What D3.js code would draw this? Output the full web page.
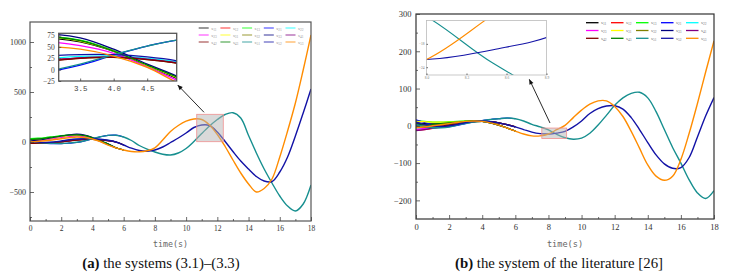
<!DOCTYPE html>
<html><head><meta charset="utf-8">
<script src="https://cdn.jsdelivr.net/npm/d3@7"></script>
<style>body{margin:0;background:#fff}</style>
</head><body>
<svg id="c" width="734" height="274" xmlns="http://www.w3.org/2000/svg"></svg>
<script>
// ---------- DATA ----------
const tA = [0,0.5,1,1.5,2,2.5,3,3.5,4,4.5,5,5.5,6,6.5,7,7.5,8,8.5,9,9.5,10,10.5,11,11.5,12,12.5,13,13.5,14,14.5,15,15.5,16,16.5,17,17.5,18];
const names = ["s11","s12","s13","s21","s22","s23","s31","s32","s33","s41","s42","s43","s51","s52","s53"];
const subs  = ["11","12","13","21","22","23","31","32","33","41","42","43","51","52","53"];
const colors = ["#000000","#ff0000","#00ff00","#0000ff","#00ffff","#ff00ff","#ffff00","#808000","#000080","#800080","#800000","#008000","#168f8f","#1212a6","#ff8c00"];
const groupOf = ["O","B","O","T","B","O","O","B","O","B","B","O","T","B","O"];

// left panel (a): group lead curves (s53 orange, s52 blue, s51 teal)
const leftLeadO = [0,5,12,22,33,43,50,45,30,5,-32,-58,-80,-95,-98,-88,-58,20,105,165,208,230,225,170,75,-45,-180,-310,-420,-500,-465,-370,-150,110,390,720,1070];
const leftLeadB = [0,-3,-5,0,10,22,30,33,33,28,18,0,-30,-62,-85,-92,-80,-50,-5,40,90,145,170,165,100,5,-95,-190,-270,-345,-390,-395,-300,-150,60,290,530];
const leftLeadT = [0,-5,-10,-14,-15,-10,-3,12,33,52,66,68,50,15,-35,-72,-100,-122,-130,-110,-65,5,85,160,225,275,293,240,65,-110,-270,-410,-540,-640,-690,-620,-430];
// left panel early values (t = 0 .. 5) of the other states, null = lead curve
const leftEarly = [
  [20,26,34,45,56,65,69,61,40,8,-23],
  [-10,-12,-12,-7,2,12,20,26,28,23,14],
  [33,38,45,54,63,70,73,65,42,10,-20],
  [-5,-10,-14,-17,-17,-12,-5,10,32,52,66],
  [-5,-8,-8,-3,6,16,24,29,30,25,16],
  [5,12,22,33,45,55,61,53,36,6,-27],
  [15,22,31,43,55,65,71,63,41,9,-21],
  [-12,-14,-13,-8,1,11,19,25,27,22,13],
  [10,18,30,45,60,72,78,70,45,12,-18],
  [-8,-11,-11,-6,3,12,20,26,28,23,14],
  [-15,-15,-14,-9,0,10,18,25,27,22,13],
  [25,31,39,50,60,68,72,64,41,10,-20],
  null, null, null
];

// right panel (b)
const rightLeadO = [-5,-3,0,3,6,9,12,13,12,8,2,-6,-14,-22,-27,-27,-22,-10.5,1,22,42,58,67,67,52,25,-15,-60,-105,-135,-146,-135,-90,-20,60,145,228];
const rightLeadB = [10,4,0,-2,0,4,9,12,13,11,8,3,-3,-10,-17,-21,-22,-19.5,-15,-3,13,33,46,53,54,45,22,-10,-45,-78,-102,-114,-112,-85,-30,27,76];
const rightLeadT = [3,-2,-5,-5,-3,2,7,11,14,17,19,21,19,13,4,-3,-11,-23,-32,-36,-33,-20,2,28,55,75,87,90,75,38,-10,-58,-100,-145,-180,-195,-174];
const rightEarly = [
  [8,6,5,6,8,10,12,13,12,8,2],
  [-12,-10,-7,-4,-1,3,7,10,12,10,7],
  [14,12,10,10,11,12,13,14,12,8,2],
  [16,9,3,-1,-2,1,6,11,14,17,19],
  [-8,-8,-6,-4,-1,3,7,10,12,11,8],
  [-10,-7,-4,-1,2,6,10,12,12,8,2],
  [12,11,10,10,10,11,12,13,12,8,2],
  [0,0,1,2,4,6,9,11,12,11,8],
  [5,3,2,3,5,8,11,13,12,8,2],
  [-13,-10,-6,-3,0,4,8,11,13,11,8],
  [-3,-4,-3,-1,2,5,8,11,13,11,8],
  [2,3,4,6,8,10,12,13,12,8,2],
  null, null, null
];

const xTicksMajor = [0,2,4,6,8,10,12,14,16,18];
const xTicksMinor = [1,3,5,7,9,11,13,15,17];
const leftYTicks = [-500,0,500,1000];
const leftYMinor = [-750,-250,250,750];
const rightYTicks = [-200,-100,0,100,200,300];
const rightYMinor = [-150,-50,50,150,250];
const leftInsetYTicks = [-25,0,25,50,75];
const leftInsetXTicks = [3.5,4.0,4.5];
const rightInsetXTicks = [8.0,8.3,8.6,8.9];
const rightInsetYTicks = [-24,-18];

// ---------- BUILD ----------
// non-lead states follow their own early values and then merge into (and hide under) their group lead
function buildSeries(leadO, leadB, leadT, early) {
  return names.map((n, i) => {
    const g = groupOf[i];
    const lead = g === "O" ? leadO : (g === "B" ? leadB : leadT);
    const vals = early[i] === null ? lead : early[i].concat(lead.slice(early[i].length, early[i].length + 2));
    return {name: n, color: colors[i], lead: early[i] === null, values: vals.map((v, k) => ({t: tA[k], v}))};
  });
}
const leftSeries = buildSeries(leftLeadO, leftLeadB, leftLeadT, leftEarly);
const rightSeries = buildSeries(rightLeadO, rightLeadB, rightLeadT, rightEarly);

const svg = d3.select("#c");
let clipN = 0;

function styleAxis(sel, font, size, color) {
  sel.select(".domain").remove();
  sel.selectAll(".tick line").attr("stroke", "#444").attr("stroke-width", 0.8);
  sel.selectAll(".tick text").attr("font-family", font).attr("font-size", size).attr("fill", color);
}

function drawPanel(c) {
  const g = svg.append("g");
  const x = d3.scaleLinear().domain([0, 18]).range([c.x0, c.x1]);
  const y = d3.scaleLinear().domain(c.yDom).range([c.y1, c.y0]);
  const id = "clip" + (clipN++);
  g.append("clipPath").attr("id", id).append("rect")
    .attr("x", c.x0).attr("y", c.y0).attr("width", c.x1 - c.x0).attr("height", c.y1 - c.y0);
  const line = d3.line().x(d => x(d.t)).y(d => y(d.v)).curve(d3.curveCatmullRom.alpha(0.5));
  const lg = g.append("g").attr("clip-path", `url(#${id})`);
  c.series.forEach(s => lg.append("path").attr("d", line(s.values))
    .attr("fill", "none").attr("stroke", s.color).attr("stroke-width", s.lead ? 1.4 : 1.2)
    .attr("stroke-linejoin", "round"));

  // zoom box
  g.append("rect")
    .attr("x", x(c.box[0])).attr("y", y(c.box[3]))
    .attr("width", x(c.box[1]) - x(c.box[0])).attr("height", y(c.box[2]) - y(c.box[3]))
    .attr("fill", "#b4b4b4").attr("fill-opacity", 0.5)
    .attr("stroke", "#f09090").attr("stroke-width", 0.8);

  // frame
  g.append("rect").attr("x", c.x0).attr("y", c.y0).attr("width", c.x1 - c.x0).attr("height", c.y1 - c.y0)
    .attr("fill", "none").attr("stroke", c.frameColor).attr("stroke-width", 1.2);

  // axes (inward ticks)
  const ax = g.append("g").attr("transform", `translate(0,${c.y1})`)
    .call(d3.axisBottom(x).tickValues(xTicksMajor).tickSize(-4).tickPadding(c.xPad).tickFormat(d3.format("d")));
  styleAxis(ax, "Liberation Serif", c.tickFont, "#333");
  const axm = g.append("g").attr("transform", `translate(0,${c.y1})`)
    .call(d3.axisBottom(x).tickValues(xTicksMinor).tickSize(-2).tickFormat(""));
  styleAxis(axm, "Liberation Serif", c.tickFont, "#333");
  const ay = g.append("g").attr("transform", `translate(${c.x0},0)`)
    .call(d3.axisLeft(y).tickValues(c.yTicks).tickSize(-4).tickPadding(c.yPad).tickFormat(d3.format("d")));
  styleAxis(ay, "Liberation Serif", c.yTickFont, "#333");
  const aym = g.append("g").attr("transform", `translate(${c.x0},0)`)
    .call(d3.axisLeft(y).tickValues(c.yMinor).tickSize(-2).tickFormat(""));
  styleAxis(aym, "Liberation Serif", c.yTickFont, "#333");

  // legend
  const L = c.legend;
  names.forEach((n, i) => {
    const row = Math.floor(i / 5), col = i % 5;
    const lx = L.x + col * L.dx, ly = L.y + row * L.dy;
    g.append("line").attr("x1", lx).attr("x2", lx + L.len).attr("y1", ly).attr("y2", ly)
      .attr("stroke", colors[i]).attr("stroke-width", L.w).attr("stroke-opacity", L.op);
    const t = g.append("text").attr("x", lx + L.len + 2.5).attr("y", ly + 1.5)
      .attr("font-family", "Liberation Serif").attr("font-size", 5).attr("fill", L.textColor);
    t.append("tspan").text("s");
    t.append("tspan").attr("font-size", 3.5).attr("dy", 1.2).text(subs[i]);
  });

  // inset
  const I = c.inset;
  const ix = d3.scaleLinear().domain(I.xDom).range([I.x0, I.x1]);
  const iy = d3.scaleLinear().domain(I.yDom).range([I.y1, I.y0]);
  g.append("rect").attr("x", I.x0).attr("y", I.y0).attr("width", I.x1 - I.x0).attr("height", I.y1 - I.y0)
    .attr("fill", "#fff");
  const iid = "clip" + (clipN++);
  g.append("clipPath").attr("id", iid).append("rect")
    .attr("x", I.x0).attr("y", I.y0).attr("width", I.x1 - I.x0).attr("height", I.y1 - I.y0);
  const iline = d3.line().x(d => ix(d.t)).y(d => iy(d.v)).curve(d3.curveCatmullRom.alpha(0.5));
  const ig = g.append("g").attr("clip-path", `url(#${iid})`);
  c.series.forEach(s => ig.append("path").attr("d", iline(s.values))
    .attr("fill", "none").attr("stroke", s.color).attr("stroke-width", I.lw));
  g.append("rect").attr("x", I.x0).attr("y", I.y0).attr("width", I.x1 - I.x0).attr("height", I.y1 - I.y0)
    .attr("fill", "none").attr("stroke", I.frame).attr("stroke-width", I.fw);
  const iax = g.append("g").attr("transform", `translate(0,${I.y1})`)
    .call(d3.axisBottom(ix).tickValues(I.xTicks).tickSize(-I.tick).tickPadding(I.xPad).tickFormat(d3.format(".1f")));
  styleAxis(iax, I.xFont, I.xSize, I.textColor);
  const iay = g.append("g").attr("transform", `translate(${I.x0},0)`)
    .call(d3.axisLeft(iy).tickValues(I.yTicks).tickSize(-I.tick).tickPadding(I.yPad).tickFormat(d3.format("d")));
  styleAxis(iay, "Liberation Serif", I.ySize, I.textColor);

  // arrow
  const A = c.arrow;
  g.append("line").attr("x1", A[0]).attr("y1", A[1]).attr("x2", A[2]).attr("y2", A[3])
    .attr("stroke", "#111").attr("stroke-width", 0.9);
  const ang = Math.atan2(A[3] - A[1], A[2] - A[0]);
  const hl = 5, hw = 2.2;
  const bx = A[2] - hl * Math.cos(ang), by = A[3] - hl * Math.sin(ang);
  g.append("path").attr("d", `M${A[2]},${A[3]}L${bx + hw * Math.sin(ang)},${by - hw * Math.cos(ang)}L${bx - hw * Math.sin(ang)},${by + hw * Math.cos(ang)}Z`)
    .attr("fill", "#111");

  // axis title
  g.append("text").attr("x", (c.x0 + c.x1) / 2).attr("y", c.titleY)
    .attr("text-anchor", "middle").attr("font-family", "DejaVu Sans Mono").attr("font-size", c.titleSize)
    .attr("fill", "#666").text("time(s)");
  // caption
  const cap = g.append("text").attr("x", c.capX).attr("y", 268).attr("text-anchor", "middle")
    .attr("font-family", "Liberation Serif").attr("font-size", 14.8).attr("fill", "#111");
  cap.append("tspan").attr("font-weight", "bold").text(c.capBold);
  cap.append("tspan").text(c.capText);
}

drawPanel({
  series: leftSeries, x0: 30, x1: 311, y0: 22, y1: 221, yDom: [-790, 1200],
  yTicks: leftYTicks, yMinor: leftYMinor, tickFont: 7.5, yTickFont: 8, xPad: 5, yPad: 4,
  frameColor: "#555", box: [10.68, 12.38, 3, 277],
  legend: {x: 198.7, y: 28, dx: 21.7, dy: 7, len: 10, w: 1.6, op: 0.5, textColor: "#999"},
  inset: {x0: 58.7, x1: 176.7, y0: 33.3, y1: 81, xDom: [3.18, 4.94], yDom: [-25, 80],
    xTicks: leftInsetXTicks, yTicks: leftInsetYTicks, lw: 1.3, frame: "#555", fw: 1.3,
    tick: 2.5, xPad: 5, yPad: 4, xFont: "Liberation Mono", xSize: 7.5, ySize: 7.5, textColor: "#444"},
  arrow: [204, 112.3, 177.7, 85],
  titleY: 247, titleSize: 8.3, capX: 161, capBold: "(a)", capText: " the systems (3.1)–(3.3)"
});

drawPanel({
  series: rightSeries, x0: 416, x1: 714, y0: 14, y1: 219, yDom: [-250, 300],
  yTicks: rightYTicks, yMinor: rightYMinor, tickFont: 8.5, yTickFont: 8.5, xPad: 5, yPad: 4.5,
  frameColor: "#333", box: [7.6, 9.1, -34, -6],
  legend: {x: 586, y: 22.7, dx: 25, dy: 7.8, len: 12.5, w: 1.3, op: 1, textColor: "#777"},
  inset: {x0: 426.5, x1: 546.5, y0: 20.5, y1: 75, xDom: [8.0, 8.9], yDom: [-26, -12],
    xTicks: rightInsetXTicks, yTicks: rightInsetYTicks, lw: 1.1, frame: "#bbb", fw: 0.8,
    tick: 1.5, xPad: 2, yPad: 2, xFont: "Liberation Serif", xSize: 3.5, ySize: 3.5, textColor: "#777"},
  arrow: [550, 123, 529.3, 79.3],
  titleY: 246.5, titleSize: 8.6, capX: 559, capBold: "(b)", capText: " the system of the literature [26]"
});
</script>
</body></html>
